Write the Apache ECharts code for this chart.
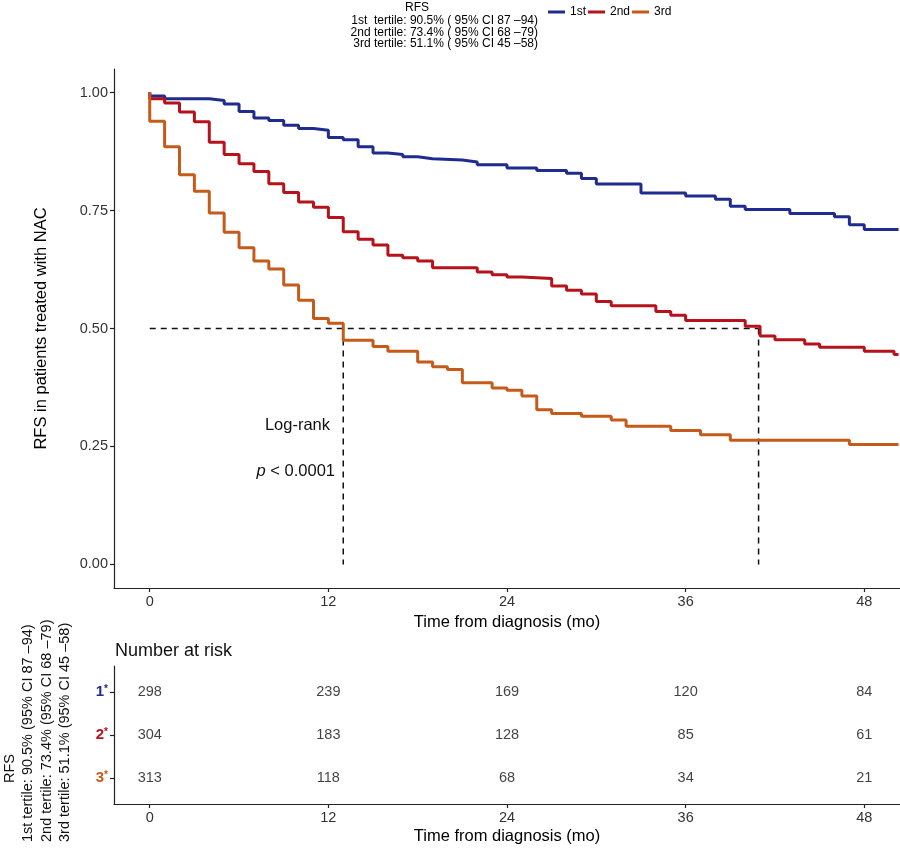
<!DOCTYPE html>
<html><head><meta charset="utf-8">
<script src="https://cdn.jsdelivr.net/npm/echarts@6/dist/echarts.min.js"></script>
<style>html,body{margin:0;padding:0;background:#fff}#c{width:900px;height:849px}</style>
</head><body><div id="c"></div>
<script>
// ---- data ----
const seriesNames = ['1st', '2nd', '3rd'];
const colors = ['#1f2b8e', '#b5121b', '#c55a1a'];

const t1 = [0, 0, 1, 4, 5, 6, 7, 8, 9, 10, 11, 12, 13, 14, 15, 16, 17, 18, 19, 21, 22, 24, 26, 28, 29, 30, 33, 36, 38, 39, 40, 43, 46, 47, 48, 50.3];
const s1 = [1.0, 0.993, 0.987, 0.983, 0.976, 0.960, 0.946, 0.941, 0.931, 0.924, 0.920, 0.905, 0.900, 0.885, 0.872, 0.869, 0.864, 0.860, 0.857, 0.853, 0.847, 0.840, 0.835, 0.829, 0.818, 0.806, 0.787, 0.781, 0.774, 0.759, 0.752, 0.744, 0.737, 0.720, 0.710, 0.710];

const t2 = [0, 0, 1, 2, 3, 4, 5, 6, 7, 8, 9, 10, 11, 12, 13, 14, 15, 16, 17, 18, 19, 22, 23, 24, 25, 27, 28, 29, 30, 31, 34, 35, 36, 40, 41, 42, 44, 45, 48, 50, 50.3];
const s2 = [1.0, 0.987, 0.978, 0.959, 0.938, 0.895, 0.869, 0.849, 0.833, 0.807, 0.788, 0.768, 0.757, 0.735, 0.705, 0.689, 0.677, 0.655, 0.650, 0.643, 0.629, 0.620, 0.614, 0.609, 0.606, 0.590, 0.581, 0.573, 0.557, 0.548, 0.536, 0.528, 0.517, 0.505, 0.484, 0.476, 0.467, 0.460, 0.452, 0.445, 0.445];

const t3 = [0, 0, 1, 2, 3, 4, 5, 6, 7, 8, 9, 10, 11, 12, 13, 15, 16, 18, 19, 20, 21, 23, 24, 25, 26, 27, 29, 31, 32, 35, 37, 39, 47, 50.3];
const s3 = [1.0, 0.939, 0.885, 0.826, 0.791, 0.745, 0.704, 0.671, 0.643, 0.626, 0.592, 0.560, 0.521, 0.511, 0.475, 0.462, 0.452, 0.429, 0.419, 0.413, 0.385, 0.374, 0.369, 0.357, 0.328, 0.320, 0.314, 0.306, 0.293, 0.284, 0.275, 0.263, 0.254, 0.254];

const medianTimes = [13, 40.9];   // 3rd, 2nd tertile medians
const medianLevel = 0.5;

const riskTimes = [0, 12, 24, 36, 48];
const risk1 = [298, 239, 169, 120, 84];
const risk2 = [304, 183, 128, 85, 61];
const risk3 = [313, 118, 68, 34, 21];

const xTicks = [0, 12, 24, 36, 48];
const yTicks = [0, 0.25, 0.5, 0.75, 1];
const riskRows = [1, 2, 3];

const legendTitle = 'RFS';
const tertileTop = ['1st  tertile: 90.5% ( 95% CI 87 \u201394)', '2nd tertile: 73.4% ( 95% CI 68 \u201379)', '3rd tertile: 51.1% ( 95% CI 45 \u201358)'];
const tertileSide = ['1st tertile: 90.5% (95% CI 87 \u201394)', '2nd tertile: 73.4% (95% CI 68 \u201379)', '3rd tertile: 51.1% (95% CI 45 \u201358)'];

// ---- chart ----
const FONT = '"Liberation Sans", Arial, Helvetica, sans-serif';
const zip = (a, b) => a.map((v, i) => [v, b[i]]);
const chart = echarts.init(document.getElementById('c'), null, { renderer: 'canvas' });

const axisLineStyle = { color: '#222', width: 1.2 };
const xAxisBase = (gi, nameGap) => ({
  type: 'value', gridIndex: gi, min: -2.4, max: 50.4,
  name: 'Time from diagnosis (mo)', nameLocation: 'middle', nameGap: nameGap,
  nameTextStyle: { fontSize: 16.5, color: '#000', fontFamily: FONT },
  axisLine: { show: true, onZero: false, lineStyle: axisLineStyle },
  axisTick: { show: true, customValues: xTicks, length: 4, lineStyle: axisLineStyle },
  axisLabel: { customValues: xTicks, margin: 6, fontSize: 14.5, color: '#333', fontFamily: FONT },
  splitLine: { show: false }
});

const dashData = [[0, medianLevel], [Math.max(...medianTimes), medianLevel]];
const dashSeries = [
  { type: 'line', xAxisIndex: 0, yAxisIndex: 0, data: dashData, symbol: 'none', silent: true, z: 1,
    lineStyle: { color: '#111', width: 1.5, type: [6, 5] } }
].concat(medianTimes.map(m => ({
  type: 'line', xAxisIndex: 0, yAxisIndex: 0, data: [[m, medianLevel], [m, 0]], symbol: 'none', silent: true, z: 1,
  lineStyle: { color: '#111', width: 1.5, type: [6, 5] }
})));

const curves = [zip(t1, s1), zip(t2, s2), zip(t3, s3)];
const curveSeries = curves.map((d, i) => ({
  name: seriesNames[i], type: 'line', step: 'end', data: d, xAxisIndex: 0, yAxisIndex: 0,
  showSymbol: false, symbol: 'none', z: 3, color: colors[i],
  lineStyle: { color: colors[i], width: 3 }
}));

const risks = [risk1, risk2, risk3];
const riskSeries = risks.map((r, i) => ({
  type: 'scatter', xAxisIndex: 1, yAxisIndex: 1, silent: true,
  data: riskTimes.map((t, j) => [t, riskRows[i], r[j]]),
  symbolSize: 1, itemStyle: { color: 'transparent' },
  label: { show: true, position: 'inside', formatter: p => String(p.value[2]), color: '#111', fontSize: 14.5, fontFamily: FONT }
}));

const richRows = {};
riskRows.forEach((r, i) => {
  richRows['g' + r] = { color: colors[i], fontWeight: 'bold', fontSize: 15, fontFamily: FONT };
  richRows['s' + r] = { color: colors[i], fontWeight: 'bold', fontSize: 10, fontFamily: FONT, verticalAlign: 'top' };
});

const graphics = [
  { type: 'text', x: 417, y: 8, style: { text: legendTitle, fontSize: 12, fontFamily: FONT, fill: '#000', textAlign: 'center', textVerticalAlign: 'middle' } },
  ...tertileTop.map((s, i) => ({ type: 'text', x: 538, y: 21 + i * 11.3, style: { text: s, fontSize: 12, fontFamily: FONT, fill: '#000', textAlign: 'right', textVerticalAlign: 'middle' } })),
  { type: 'text', x: 330, y: 425, style: { text: 'Log-rank', fontSize: 16.5, fontFamily: FONT, fill: '#111', textAlign: 'right', textVerticalAlign: 'middle' } },
  { type: 'text', x: 335, y: 471, style: { text: '{i|p} < 0.0001', fontSize: 16.5, fontFamily: FONT, fill: '#111', textAlign: 'right', textVerticalAlign: 'middle',
      rich: { i: { fontStyle: 'italic', fontSize: 16.5, fontFamily: FONT, fill: '#111' } } } },
  { type: 'text', x: 115, y: 651, style: { text: 'Number at risk', fontSize: 18, fontFamily: FONT, fill: '#111', textAlign: 'left', textVerticalAlign: 'middle' } },
  { type: 'text', x: 10, y: 783, rotation: Math.PI / 2, style: { text: legendTitle, fontSize: 14.5, fontFamily: FONT, fill: '#111', textAlign: 'left', textVerticalAlign: 'middle' } },
  ...tertileSide.map((s, i) => ({ type: 'text', x: 28 + i * 18.5, y: 842, rotation: Math.PI / 2, style: { text: s, fontSize: 14.5, fontFamily: FONT, fill: '#111', textAlign: 'left', textVerticalAlign: 'middle' } }))
];

chart.setOption({
  animation: false,
  backgroundColor: '#fff',
  textStyle: { fontFamily: FONT },
  legend: {
    data: seriesNames, left: 548, top: 6, padding: 0, itemGap: 2, itemWidth: 17, itemHeight: 3, icon: 'rect',
    textStyle: { fontSize: 12, color: '#000', fontFamily: FONT }
  },
  grid: [
    { left: 114, width: 786, top: 69, height: 519, containLabel: false },
    { left: 114, width: 786, top: 666, height: 138, containLabel: false }
  ],
  xAxis: [xAxisBase(0, 24), xAxisBase(1, 24)],
  yAxis: [
    { type: 'value', gridIndex: 0, min: -0.05, max: 1.05,
      name: 'RFS in patients treated with NAC', nameLocation: 'middle', nameGap: 64,
      nameTextStyle: { fontSize: 16.5, color: '#000', fontFamily: FONT },
      axisLine: { show: true, onZero: false, lineStyle: axisLineStyle },
      axisTick: { show: true, customValues: yTicks, length: 4, lineStyle: axisLineStyle },
      axisLabel: { customValues: yTicks, margin: 6, fontSize: 14.5, color: '#333', fontFamily: FONT, formatter: v => v.toFixed(2) },
      splitLine: { show: false } },
    { type: 'value', gridIndex: 1, min: 0.4, max: 3.6, inverse: true,
      axisLine: { show: true, onZero: false, lineStyle: axisLineStyle },
      axisTick: { show: true, customValues: riskRows, length: 4, lineStyle: axisLineStyle },
      axisLabel: { customValues: riskRows, margin: 6, formatter: v => '{g' + v + '|' + v + '}{s' + v + '|*}', rich: richRows },
      splitLine: { show: false } }
  ],
  series: [...dashSeries, ...curveSeries, ...riskSeries],
  graphic: graphics
});
</script></body></html>
